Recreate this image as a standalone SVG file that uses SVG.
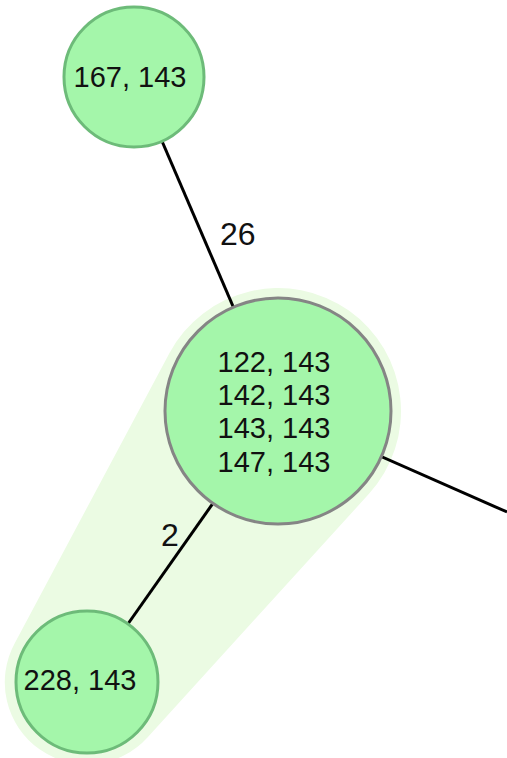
<svg xmlns="http://www.w3.org/2000/svg" width="507" height="758" viewBox="0 0 507 758">
<style>
.node{fill:#a4f6aa;stroke-width:3}
.g{stroke:#6dbb79}
.m{stroke:#858585}
.t{font-family:"Liberation Sans",Arial,sans-serif;font-size:29px;fill:#111;text-anchor:middle}
.l{font-family:"Liberation Sans",Arial,sans-serif;font-size:32px;fill:#111}
.e{stroke:#000;stroke-width:3;fill:none}
</style>
<rect width="507" height="758" fill="#fff"/>
<path id="halo" d="M 169.5 353.1 A 123 123 0 1 1 369.0 493.8 L 147.7 737.2 A 82 82 0 0 1 14.6 643.4 Z" fill="#ebfbe3"/>
<g id="edges">
<line class="e" x1="134" y1="76" x2="278" y2="411"/>
<line class="e" x1="278" y1="411" x2="87" y2="682"/>
<line class="e" x1="278" y1="411" x2="507" y2="512"/>
<text class="l" x="220" y="245">26</text>
<text class="l" x="161" y="546">2</text>
</g>
<g id="n167">
<circle class="node g" cx="134" cy="77" r="70"/>
<text class="t" x="130" y="87">167, 143</text>
</g>
<g id="n122">
<circle class="node m" cx="278" cy="411" r="113"/>
<text class="t" x="274" y="372">122, 143</text>
<text class="t" x="274" y="405">142, 143</text>
<text class="t" x="274" y="438">143, 143</text>
<text class="t" x="274" y="472">147, 143</text>
</g>
<g id="n228">
<circle class="node g" cx="87" cy="682" r="71"/>
<text class="t" x="80" y="690">228, 143</text>
</g>
</svg>
